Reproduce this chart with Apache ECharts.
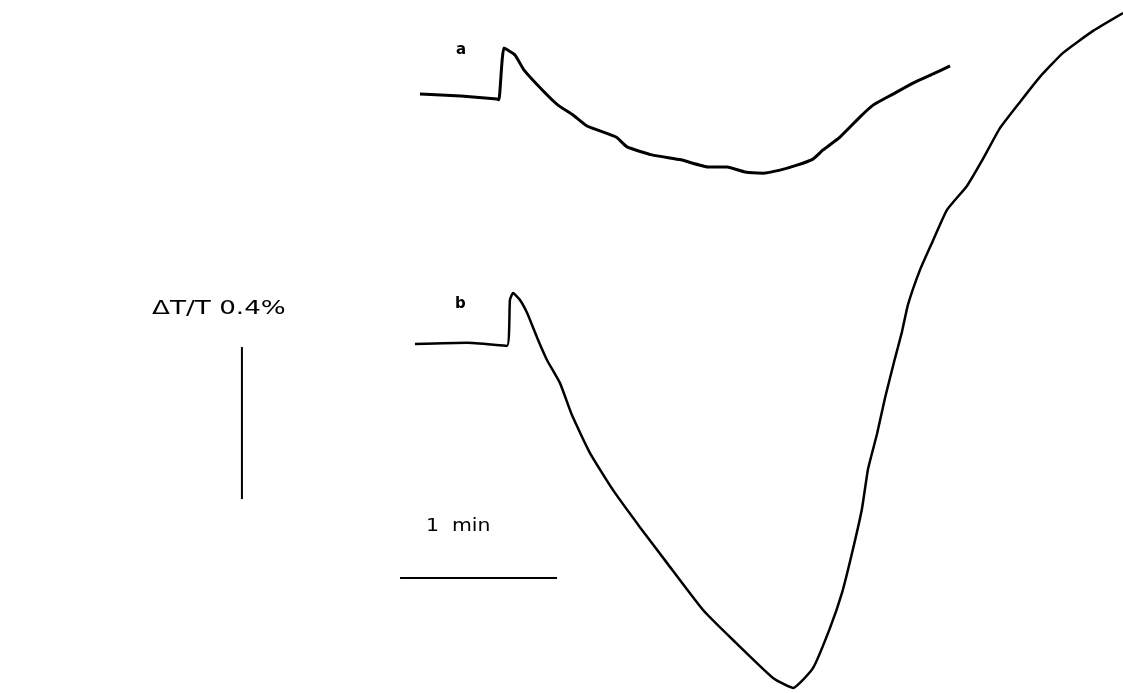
<!DOCTYPE html>
<html>
<head>
<meta charset="utf-8">
<style>
    html, body { margin: 0; padding: 0; background: #fff; }
    #chart { width: 1123px; height: 693px; }
</style>
<script src="https://cdn.jsdelivr.net/npm/echarts@6/dist/echarts.min.js"></script>
</head>
<body>
<div id="chart"></div>
<script>
    // time in minutes (0 = stimulus of trace a), dT/T in % from each trace's baseline
    const traceATime = [-0.497, -0.236, -0.006, 0.006, 0.038, 0.108, 0.166, 0.293, 0.382, 0.478, 0.567,
        0.752, 0.822, 0.981, 1.166, 1.344, 1.459, 1.573, 1.688, 1.796, 1.904, 2.006, 2.070, 2.178,
        2.306, 2.389, 2.516, 2.643, 2.771, 2.879];
    const traceAValue = [0.005, 0.000, -0.008, -0.010, 0.126, 0.108, 0.068, 0.011, -0.024, -0.050, -0.079,
        -0.108, -0.134, -0.155, -0.168, -0.187, -0.187, -0.200, -0.203, -0.195, -0.182, -0.166, -0.142, -0.108,
        -0.055, -0.024, 0.005, 0.034, 0.058, 0.079];

    const traceBTime = [-0.529, -0.197, 0.057, 0.076, 0.096, 0.140, 0.185, 0.248, 0.312, 0.395, 0.471,
        0.586, 0.732, 0.904, 1.076, 1.306, 1.497, 1.752, 1.879, 2.006, 2.115, 2.191, 2.255, 2.318,
        2.357, 2.414, 2.465, 2.529, 2.573, 2.611, 2.688, 2.764, 2.860, 2.987, 3.089, 3.197, 3.325,
        3.452, 3.599, 3.790, 3.981];
    const traceBValue = [0.000, 0.003, -0.005, 0.116, 0.134, 0.116, 0.082, 0.018, -0.042, -0.103, -0.187,
        -0.287, -0.384, -0.482, -0.576, -0.700, -0.779, -0.879, -0.905, -0.853, -0.747, -0.655, -0.550, -0.434,
        -0.329, -0.237, -0.142, -0.037, 0.032, 0.103, 0.195, 0.266, 0.353, 0.416, 0.487, 0.568, 0.637,
        0.703, 0.766, 0.824, 0.871];

    // scale bars: 1 min and 0.4 %
    const timeBar = [-0.624, 0.376];
    const timeBarLevel = -0.616;
    const ampBar = [-0.008, -0.408];
    const ampBarTime = -1.631;

    // axis ranges so that the whole page is the plotting area
    const PX_PER_MIN = 157;
    const PX_PER_PCT = 380;
    const W = 1123, H = 693;
    const X0 = 498;     // pixel of t = 0
    const A0 = 96;      // pixel of trace a baseline
    const B0 = 344;     // pixel of trace b baseline

    const zip = (xs, ys) => xs.map((x, i) => [x, ys[i]]);

    const chart = echarts.init(document.getElementById('chart'), null, { renderer: 'canvas' });

    const xRange = { min: -X0 / PX_PER_MIN, max: (W - X0) / PX_PER_MIN };
    const lineBase = {
        type: 'line',
        symbol: 'none',
        smooth: 0.15,
        animation: false,
        silent: true,
    };

    chart.setOption({
        backgroundColor: '#fff',
        grid: [
            { left: 0, right: 0, top: 0, bottom: 0 },
            { left: 0, right: 0, top: 0, bottom: 0 },
        ],
        xAxis: [
            { type: 'value', gridIndex: 0, show: false, ...xRange },
            { type: 'value', gridIndex: 1, show: false, ...xRange },
        ],
        yAxis: [
            { type: 'value', gridIndex: 0, show: false, max: A0 / PX_PER_PCT, min: (A0 - H) / PX_PER_PCT },
            { type: 'value', gridIndex: 1, show: false, max: B0 / PX_PER_PCT, min: (B0 - H) / PX_PER_PCT },
        ],
        graphic: [
            { type: 'text', x: 456, y: 43, style: { text: 'a', font: 'bold 15px "DejaVu Sans"', fill: '#000' } },
            { type: 'text', x: 455, y: 297, style: { text: 'b', font: 'bold 15px "DejaVu Sans"', fill: '#000' } },
            {
                type: 'text', x: 152, y: 300, scaleX: 1.38,
                style: { text: 'ΔT/T 0.4%', font: '19px "DejaVu Sans"', fill: '#000' },
            },
            {
                type: 'text', x: 426, y: 518, scaleX: 1.2,
                style: { text: '1  min', font: '17px "DejaVu Sans"', fill: '#000' },
            },
        ],
        series: [
            {
                ...lineBase,
                name: 'a',
                xAxisIndex: 0,
                yAxisIndex: 0,
                data: zip(traceATime, traceAValue),
                lineStyle: { color: '#000', width: 3 },
            },
            {
                ...lineBase,
                name: 'b',
                xAxisIndex: 1,
                yAxisIndex: 1,
                data: zip(traceBTime, traceBValue),
                lineStyle: { color: '#000', width: 2.5 },
            },
            {
                ...lineBase,
                smooth: false,
                name: '1 min',
                xAxisIndex: 1,
                yAxisIndex: 1,
                data: timeBar.map(t => [t, timeBarLevel]),
                lineStyle: { color: '#000', width: 2 },
            },
            {
                ...lineBase,
                smooth: false,
                name: '0.4 %',
                xAxisIndex: 1,
                yAxisIndex: 1,
                data: ampBar.map(v => [ampBarTime, v]),
                lineStyle: { color: '#000', width: 2 },
            },
        ],
    });
</script>
</body>
</html>
